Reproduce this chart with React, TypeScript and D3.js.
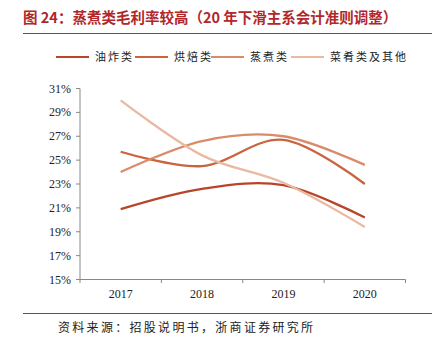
import React from "react";
import * as d3 from "d3";

const years = ["2017", "2018", "2019", "2020"];
const seriesNames = ["油炸类", "烘焙类", "蒸煮类", "菜肴类及其他"];
const fried = [20.9, 22.6, 22.9, 20.2];
const baked = [25.7, 24.5, 26.7, 23.0];
const steamed = [24.0, 26.6, 27.0, 24.6];
const dishes = [30.0, 25.4, 23.1, 19.4];
const yTicks = [15, 17, 19, 21, 23, 25, 27, 29, 31];
const colors = ["#B8452A", "#C9643F", "#D98C6C", "#E9B9A2"];

const W = 432;
const H = 352;
const left = 80;
const right = 405.5;
const top = 88.5;
const bottom = 279.5;

export default function App() {
  const allSeries = [fried, baked, steamed, dishes];
  const x = d3.scaleBand().domain(years).range([left, right]);
  const y = d3.scaleLinear().domain([15, 31]).range([bottom, top]);
  const line = d3
    .line<number>()
    .x((_, i) => (x(years[i]) as number) + x.bandwidth() / 2)
    .y((d) => y(d))
    .curve(d3.curveCardinal.tension(0));

  const legendX = [56, 135, 211, 291];

  return (
    <svg
      width={W}
      height={H}
      style={{ position: "absolute", left: 0, top: 0, background: "#fff" }}
    >
      <text
        x={23}
        y={23}
        fontFamily="'Noto Sans CJK SC'"
        fontWeight="bold"
        fontSize={14.5}
        fill="#B0282B"
      >
        图 24：蒸煮类毛利率较高（20 年下滑主系会计准则调整）
      </text>
      <line x1={23} x2={432} y1={33.5} y2={33.5} stroke="#555" strokeWidth={1} />

      {seriesNames.map((n, i) => (
        <g key={n}>
          <line
            x1={legendX[i]}
            x2={legendX[i] + 33}
            y1={57}
            y2={57}
            stroke={colors[i]}
            strokeWidth={2.2}
          />
          <text
            x={legendX[i] + 39}
            y={61}
            fontFamily="'Noto Sans CJK SC'"
            fontSize={11}
            letterSpacing={2}
            fill="#222"
          >
            {n}
          </text>
        </g>
      ))}

      {/* y axis */}
      <line x1={left} x2={left} y1={top} y2={bottom} stroke="#888" />
      {yTicks.map((t) => (
        <g key={t}>
          <line x1={left - 4} x2={left} y1={y(t)} y2={y(t)} stroke="#888" />
          <text
            x={71}
            y={y(t) + 4}
            textAnchor="end"
            fontFamily="'Liberation Serif'"
            fontSize={12}
            fill="#222"
          >
            {t}%
          </text>
        </g>
      ))}

      {/* x axis */}
      <line x1={left} x2={right} y1={bottom} y2={bottom} stroke="#888" />
      {[...years.map((yr) => x(yr) as number), right].map((p, i) => (
        <line key={i} x1={p} x2={p} y1={bottom} y2={bottom + 3.5} stroke="#888" />
      ))}
      {years.map((yr) => (
        <text
          key={yr}
          x={(x(yr) as number) + x.bandwidth() / 2}
          y={298}
          textAnchor="middle"
          fontFamily="'Liberation Serif'"
          fontSize={12}
          fill="#222"
        >
          {yr}
        </text>
      ))}

      {allSeries.map((s, i) => (
        <path
          key={i}
          d={line(s) || ""}
          fill="none"
          stroke={colors[i]}
          strokeWidth={2.3}
        />
      ))}

      <line x1={23} x2={432} y1={313.5} y2={313.5} stroke="#555" strokeWidth={1} />
      <text
        x={58}
        y={332}
        fontFamily="'Noto Sans CJK SC'"
        fontSize={12}
        letterSpacing={2.3}
        fill="#222"
      >
        资料来源：招股说明书，浙商证券研究所
      </text>
    </svg>
  );
}
